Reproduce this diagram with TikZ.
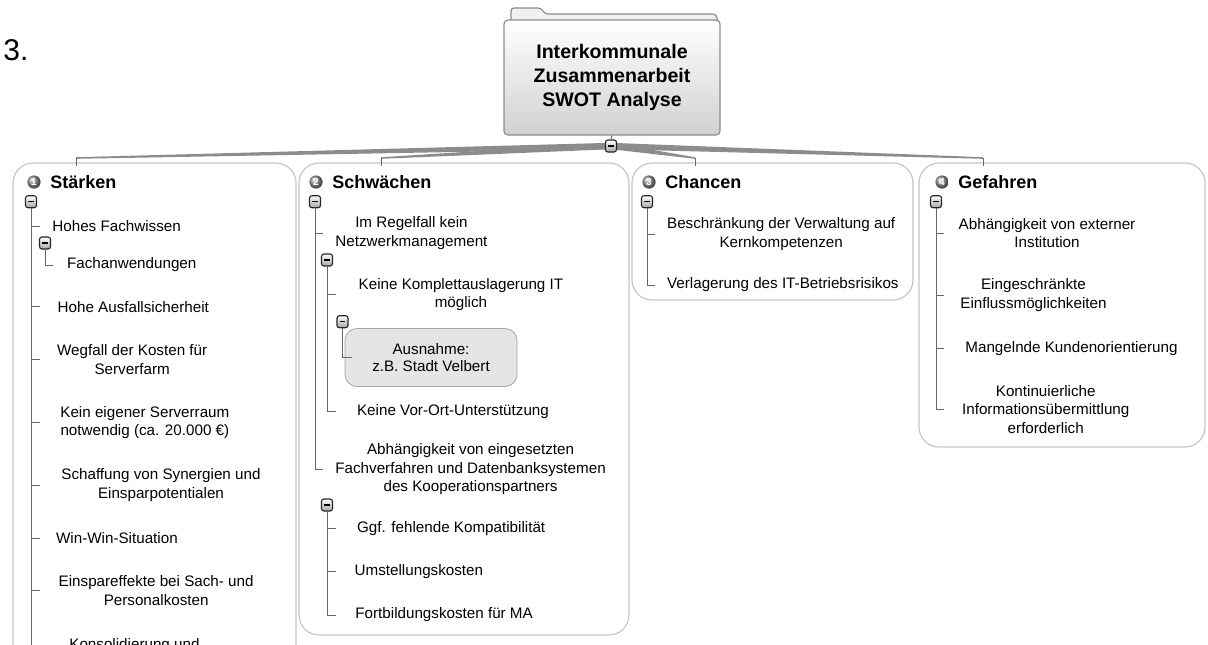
\documentclass[tikz,border=0pt]{standalone}
\usepackage{fontspec}
\setmainfont{Liberation Sans}
\usetikzlibrary{positioning}
\newcommand{\tglmark}{\rule{2.6pt}{0.7pt}}
\begin{document}
\begin{tikzpicture}[
	                    x = 0.5pt,
	                    y = -0.5pt,
	    every node/.style = {inner sep=0pt, font=\fontsize{7.6}{9.1}\selectfont},
	      itemtext/.style = {anchor=west, align=center},
	    headertext/.style = {anchor=west, font=\fontsize{9}{11}\selectfont\bfseries},
	       numball/.style = {circle, shading=ball, ball color=black!40, minimum size=6.6pt, text=white, font=\fontsize{5}{5}\selectfont\bfseries},
	     togglebox/.style = {draw=black!85, rounded corners=1.2pt, line width=0.55pt, top color=white, bottom color=black!35, minimum width=5.5pt, minimum height=6pt},
	     branchbox/.style = {draw=black!22, line width=0.6pt, rounded corners=10pt},
	       rootbox/.style = {draw=black!45, line width=0.6pt, rounded corners=2pt, top color=white, bottom color=black!18, align=center, font=\fontsize{9.8}{11.9}\selectfont\bfseries},
	       notebox/.style = {draw=black!35, fill=black!10, rounded corners=6pt, align=center, minimum width=86pt, minimum height=29pt, font=\fontsize{7.6}{8.7}\selectfont},
	      stemline/.style = {draw=black!60, line width=0.5pt},
	     taperline/.style = {fill=black!45},
	                    ]
	\useasboundingbox (0,0) rectangle (1208,644);
	\clip (0,0) rectangle (1208,644);
	\fill[white] (0,0) rectangle (1208,644);
	\node[anchor=west, font=\fontsize{15}{18}\selectfont] (num) at (3,50) {3.};

	\node[branchbox, minimum width=141.5pt, minimum height=268.5pt] (bS) at (154.5,431.5) {};
	\node[branchbox, minimum width=165pt, minimum height=236pt] (bW) at (464,399) {};
	\node[branchbox, minimum width=140.5pt, minimum height=68.5pt] (bC) at (772.5,231.5) {};
	\node[branchbox, minimum width=143pt, minimum height=142pt] (bG) at (1062,305) {};

	\coordinate (rc) at (611,146);
	\coordinate (aS) at (76,158);
	\coordinate (aW) at (381,158);
	\coordinate (aC) at (695,158);
	\coordinate (aG) at (983,158);
	\fill[taperline] ([yshift=1.6pt]rc) -- ([yshift=0.4pt]aS) -- ([yshift=-0.4pt]aS) -- ([yshift=-1.6pt]rc) -- cycle;
	\fill[taperline] ([yshift=1.6pt]rc) -- ([yshift=0.4pt]aW) -- ([yshift=-0.4pt]aW) -- ([yshift=-1.6pt]rc) -- cycle;
	\fill[taperline] ([yshift=1.6pt]rc) -- ([yshift=0.4pt]aC) -- ([yshift=-0.4pt]aC) -- ([yshift=-1.6pt]rc) -- cycle;
	\fill[taperline] ([yshift=1.6pt]rc) -- ([yshift=0.4pt]aG) -- ([yshift=-0.4pt]aG) -- ([yshift=-1.6pt]rc) -- cycle;
	\draw[stemline] (aS) -- ([yshift=-2pt]aS |- bS.north);
	\draw[stemline] (aW) -- ([yshift=-2pt]aW |- bW.north);
	\draw[stemline] (aC) -- ([yshift=-2pt]aC |- bC.north);
	\draw[stemline] (aG) -- ([yshift=-2pt]aG |- bG.north);

	\filldraw[draw=black!45, fill=black!6, line width=0.6pt, rounded corners=1.5pt] (511,22) -- (511,8) -- (541,8) -- (545,14) -- (716,14) -- (718,22);
	\node[rootbox, minimum width=108pt, minimum height=57.5pt] (root) at (612,77.5) {Interkommunale\\Zusammenarbeit\\SWOT Analyse};
	\node[togglebox] (rt) at (rc) {\tglmark};
	\draw[stemline] (root.south) -- (rt.north);

	\node[numball] (nS) at (34,182) {1};
	\node[headertext, right=4.5pt of nS] (hS) {Stärken};
	\node[numball] (nW) at (316,182) {2};
	\node[headertext, right=4.5pt of nW] (hW) {Schwächen};
	\node[numball] (nC) at (649,182) {3};
	\node[headertext, right=4.5pt of nC] (hC) {Chancen};
	\node[numball] (nG) at (942,182) {4};
	\node[headertext, right=4.5pt of nG] (hG) {Gefahren};

	\node[notebox] (w111) at (431,357.5) {Ausnahme:\\z.B. Stadt Velbert};

	\node[togglebox] (tS) at (31,201.7) {\tglmark};
	\node[itemtext] (s1) at (52,226) {Hohes Fachwissen};
	\node[togglebox] (tS1) at (45,243) {\tglmark};
	\node[itemtext] (s11) at (66.7,265) {Fachanwendungen};
	\node[itemtext] (s2) at (57.3,306.7) {Hohe Ausfallsicherheit};
	\node[itemtext] (s3) at (56.7,359.5) {Wegfall der Kosten für\\Serverfarm};
	\node[itemtext] (s4) at (60,422.5) {Kein eigener Serverraum\\notwendig (ca. 20.000 €)};
	\node[itemtext] (s5) at (61,485) {Schaffung von Synergien und\\Einsparpotentialen};
	\node[itemtext] (s6) at (55.7,538.3) {Win-Win-Situation};
	\node[itemtext] (s7) at (58.3,590.5) {Einspareffekte bei Sach- und\\Personalkosten};
	\node[itemtext] (s8) at (69,646) {Konsolidierung und};

	\node[togglebox] (tW) at (315,201.7) {\tglmark};
	\node[itemtext] (w1) at (335,233) {Im Regelfall kein\\Netzwerkmanagement};
	\node[togglebox] (tW1) at (327,260) {\tglmark};
	\node[itemtext] (w11) at (358.3,294.7) {Keine Komplettauslagerung IT\\möglich};
	\node[togglebox] (tW11) at (342.5,321.7) {\tglmark};
	\node[itemtext] (w12) at (356.7,411.7) {Keine Vor-Ort-Unterstützung};
	\node[itemtext] (w2) at (335,469.2) {Abhängigkeit von eingesetzten\\Fachverfahren und Datenbanksystemen\\des Kooperationspartners};
	\node[togglebox] (tW2) at (327,505) {\tglmark};
	\node[itemtext] (w21) at (356.7,528.3) {Ggf. fehlende Kompatibilität};
	\node[itemtext] (w22) at (354.3,571.7) {Umstellungskosten};
	\node[itemtext] (w23) at (355,615) {Fortbildungskosten für MA};

	\node[togglebox] (tC) at (647,201.7) {\tglmark};
	\node[itemtext] (c1) at (666.7,234) {Beschränkung der Verwaltung auf\\Kernkompetenzen};
	\node[itemtext] (c2) at (666.7,285) {Verlagerung des IT-Betriebsrisikos};

	\node[togglebox] (tG) at (936,201.7) {\tglmark};
	\node[itemtext] (g1) at (958.3,233.4) {Abhängigkeit von externer\\Institution};
	\node[itemtext] (g2) at (960,295) {Eingeschränkte\\Einflussmöglichkeiten};
	\node[itemtext] (g3) at (965,348.3) {Mangelnde Kundenorientierung};
	\node[itemtext] (g4) at (961.7,409.5) {Kontinuierliche\\Informationsübermittlung\\erforderlich};

	\coordinate (xS) at (40,0);
	\coordinate (xS1) at (53,0);
	\coordinate (xW) at (323,0);
	\coordinate (xW1) at (336,0);
	\coordinate (xW11) at (352,0);
	\coordinate (xW2) at (336,0);
	\coordinate (xC) at (655,0);
	\coordinate (xG) at (944,0);

	\draw[stemline] (tS.south) |- (xS |- s1);
	\draw[stemline] (tS1.south) |- (xS1 |- s11);
	\draw[stemline] (tS.south) |- (xS |- s2);
	\draw[stemline] (tS.south) |- (xS |- s3);
	\draw[stemline] (tS.south) |- (xS |- s4);
	\draw[stemline] (tS.south) |- (xS |- s5);
	\draw[stemline] (tS.south) |- (xS |- s6);
	\draw[stemline] (tS.south) |- (xS |- s7);
	\draw[stemline] (tS.south) |- (xS |- s8);

	\draw[stemline] (tW.south) |- (xW |- w1);
	\draw[stemline] (tW1.south) |- (xW1 |- w11);
	\draw[stemline] (tW11.south) |- (xW11 |- w111);
	\draw[stemline] (tW1.south) |- (xW1 |- w12);
	\draw[stemline] (tW.south) |- (xW |- w2);
	\draw[stemline] (tW2.south) |- (xW2 |- w21);
	\draw[stemline] (tW2.south) |- (xW2 |- w22);
	\draw[stemline] (tW2.south) |- (xW2 |- w23);

	\draw[stemline] (tC.south) |- (xC |- c1);
	\draw[stemline] (tC.south) |- (xC |- c2);

	\draw[stemline] (tG.south) |- (xG |- g1);
	\draw[stemline] (tG.south) |- (xG |- g2);
	\draw[stemline] (tG.south) |- (xG |- g3);
	\draw[stemline] (tG.south) |- (xG |- g4);
\end{tikzpicture}
\end{document}
